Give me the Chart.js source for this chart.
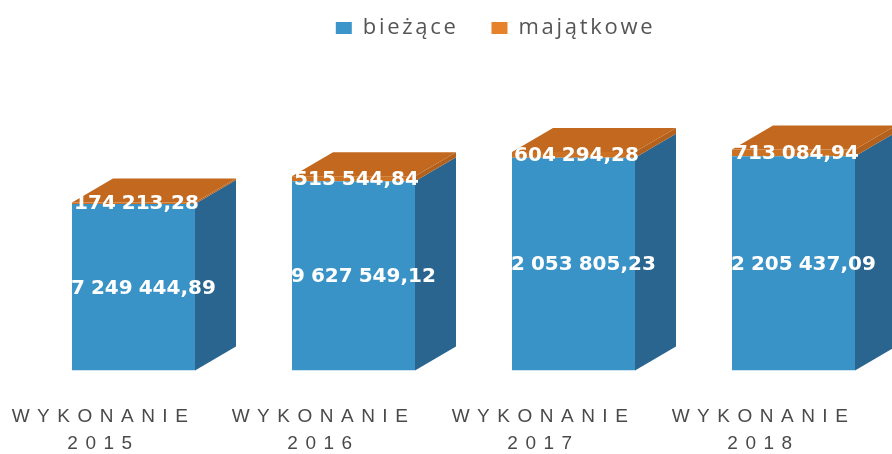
<!DOCTYPE html>
<html>
<head>
<meta charset="utf-8">
<script src="https://cdn.jsdelivr.net/npm/chart.js@4"></script>
<style>
html,body{margin:0;padding:0;background:#fff;overflow:hidden}
#wrap{width:892px;height:454px;overflow:hidden;position:relative}
</style>
</head>
<body>
<div id="wrap"><canvas id="c" width="988" height="454" style="width:988px;height:454px;display:block"></canvas></div>
<script>
const categories = [["WYKONANIE","2015"],["WYKONANIE","2016"],["WYKONANIE","2017"],["WYKONANIE","2018"]];
const seriesNames = ['bieżące', 'majątkowe'];
const biezace = [17249444.89, 19627549.12, 22053805.23, 22205437.09];
const majatkowe = [174213.28, 515544.84, 604294.28, 713084.94];
const legendColors = ['#3b95ca', '#e5822a'];

const DEPTH_X = 41, DEPTH_Y = 24;
const fmt = v => v.toFixed(2).replace('.', ',').replace(/\B(?=(\d{3})+(?!\d))(?=.*,)/g, ' ');

function poly(ctx, pts, color){
  ctx.fillStyle = color;
  ctx.beginPath();
  pts.forEach((p,i)=> i ? ctx.lineTo(p[0],p[1]) : ctx.moveTo(p[0],p[1]));
  ctx.closePath();
  ctx.fill();
}

const box3d = {
  id: 'box3d',
  beforeLayout(chart){ chart.ctx.letterSpacing = '2.7px'; },
  afterLayout(chart){
    chart.legend.left += 32;
    chart.legend.right += 32;
  },
  beforeDraw(chart){ chart.ctx.letterSpacing = '2.7px'; },
  beforeDatasetsDraw(chart){
    const ctx = chart.ctx;
    const sides = ['#2a658f', '#b5611e'];
    chart.data.datasets.forEach((ds, di) => {
      chart.getDatasetMeta(di).data.forEach(bar => {
        const p = bar.getProps(['x','y','base','width'], true);
        const r = p.x + p.width/2, l = p.x - p.width/2;
        poly(ctx, [[r,p.base],[r+DEPTH_X,p.base-DEPTH_Y],[r+DEPTH_X,p.y-DEPTH_Y],[r,p.y]], sides[di]);
        if (di === 1) {
          poly(ctx, [[l,p.y],[l+DEPTH_X,p.y-DEPTH_Y],[r+DEPTH_X,p.y-DEPTH_Y],[r,p.y]], '#c2691f');
        }
      });
    });
  },
  afterDatasetsDraw(chart){
    const ctx = chart.ctx;
    ctx.save();
    ctx.letterSpacing = '0px';
    ctx.wordSpacing = '-1px';
    ctx.font = 'bold 20px "DejaVu Sans"';
    ctx.fillStyle = '#ffffff';
    ctx.textAlign = 'center';
    ctx.textBaseline = 'middle';
    chart.data.datasets.forEach((ds, di) => {
      chart.getDatasetMeta(di).data.forEach((bar, i) => {
        const p = bar.getProps(['x','y','base'], true);
        ctx.fillText(fmt(ds.data[i]), p.x + 3, (p.y + p.base)/2 + 1);
      });
    });
    ctx.restore();
    ctx.letterSpacing = '7.5px';
  },
  afterDraw(chart){ chart.ctx.letterSpacing = '0px'; }
};

new Chart(document.getElementById('c'), {
  type: 'bar',
  data: {
    labels: categories,
    datasets: [
      { label: seriesNames[0], data: biezace, backgroundColor: '#3a93c6', borderWidth: 0, stack: 's' },
      { label: seriesNames[1], data: majatkowe, backgroundColor: '#cc7022', borderWidth: 0, stack: 's' }
    ]
  },
  options: {
    responsive: false,
    animation: false,
    layout: { padding: { left: 23.5, right: 84.5, top: -16, bottom: 0 } },
    plugins: {
      tooltip: { enabled: false },
      legend: {
        position: 'top',
        labels: {
          font: { family: '"Open Sans"', size: 22 },
          color: '#555555',
          boxWidth: 16,
          boxHeight: 12,
          padding: 33,
          generateLabels(chart){
            const items = Chart.defaults.plugins.legend.labels.generateLabels(chart);
            items.forEach((it, i) => { it.fillStyle = legendColors[i]; });
            return items;
          }
        }
      }
    },
    scales: {
      x: {
        stacked: true,
        grid: { display: false, drawTicks: false },
        border: { display: false },
        afterFit(s){ s.height = 83.5; },
        ticks: {
          z: 1,
          autoSkip: false,
          maxRotation: 0,
          minRotation: 0,
          padding: 33,
          labelOffset: -30,
          color: '#4a4a4a',
          font: { family: '"Liberation Sans"', size: 19, lineHeight: 1.42 }
        }
      },
      y: { display: false, stacked: true, min: 0, max: 33330000 }
    },
    datasets: { bar: { categoryPercentage: 1, barPercentage: 0.559 } }
  },
  plugins: [box3d]
});
</script>
</body>
</html>
